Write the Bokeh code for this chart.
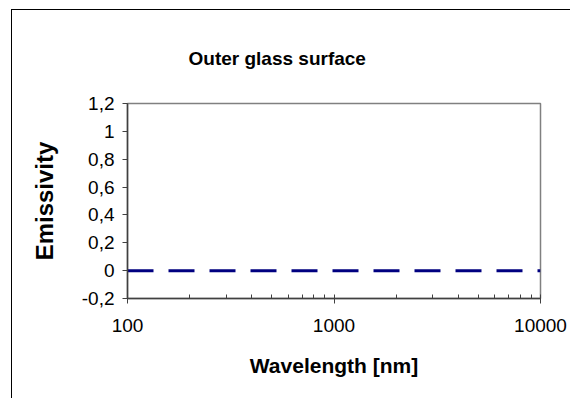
from bokeh.plotting import figure
from bokeh.models import FixedTicker
from bokeh.embed import file_html
from bokeh.resources import INLINE

# Data
wavelength_nm = [100, 10000]
emissivity = [0, 0]

x_major = [100, 1000, 10000]
x_minor = [200, 300, 400, 500, 600, 700, 800, 900,
           2000, 3000, 4000, 5000, 6000, 7000, 8000, 9000]
y_ticks = [-0.2, 0, 0.2, 0.4, 0.6, 0.8, 1.0, 1.2]
y_labels = ["-0,2", "0", "0,2", "0,4", "0,6", "0,8", "1", "1,2"]
chart_title = "Outer glass surface"

FONT = "Liberation Sans"

p = figure(width=559, height=389, x_axis_type="log",
           x_range=(100, 10000), y_range=(-0.2, 1.2),
           output_backend="svg", toolbar_location=None,
           min_border_left=115, min_border_right=31,
           min_border_top=93, min_border_bottom=101)
p.styles = {"border-left": "1px solid #000000", "border-top": "1px solid #000000",
            "margin-left": "11px", "margin-top": "9px"}

p.title.text = chart_title
p.title.text_font = FONT
p.title.text_font_size = "19px"
p.title.text_font_style = "bold"
p.title.text_color = "#000000"
p.title.align = "left"
p.title.offset = 61
p.title.standoff = 70

p.line(wavelength_nm, emissivity, line_color="#000080", line_width=3,
       line_dash="26 15")

p.xgrid.visible = False
p.ygrid.visible = False
p.outline_line_color = "#808080"
p.outline_line_width = 1.5
p.background_fill_color = "white"
p.border_fill_color = "white"

xa = p.below[0]
xa.ticker = FixedTicker(ticks=x_major, minor_ticks=x_minor)
xa.major_label_overrides = {100: "100", 1000: "1000", 10000: "10000"}
xa.axis_label = "Wavelength [nm]"
xa.axis_label_text_font = FONT
xa.axis_label_text_font_size = "21px"
xa.axis_label_text_font_style = "bold"
xa.axis_label_text_color = "#000000"
xa.axis_label_standoff = 19
xa.major_label_text_font = FONT
xa.major_label_text_font_size = "19px"
xa.major_label_text_color = "#000000"
xa.major_label_standoff = 15
xa.major_tick_in = 4
xa.major_tick_out = 5
xa.minor_tick_in = 4
xa.minor_tick_out = 0
xa.axis_line_color = "#404040"
xa.major_tick_line_color = "#404040"
xa.minor_tick_line_color = "#404040"
xa.axis_line_width = 1.5

ya = p.left[0]
ya.ticker = FixedTicker(ticks=y_ticks, minor_ticks=[])
ya.major_label_overrides = {t: l for t, l in zip(y_ticks, y_labels)}
ya.axis_label = "Emissivity"
ya.axis_label_text_font = FONT
ya.axis_label_text_font_size = "24px"
ya.axis_label_text_font_style = "bold"
ya.axis_label_text_color = "#000000"
ya.axis_label_standoff = 21
ya.major_label_text_font = FONT
ya.major_label_text_font_size = "19px"
ya.major_label_text_color = "#000000"
ya.major_label_standoff = 8
ya.major_tick_in = 0
ya.major_tick_out = 5
ya.minor_tick_in = 0
ya.minor_tick_out = 0
ya.axis_line_color = "#404040"
ya.major_tick_line_color = "#404040"
ya.axis_line_width = 1.5

open("out.html", "w").write(file_html(p, INLINE))
